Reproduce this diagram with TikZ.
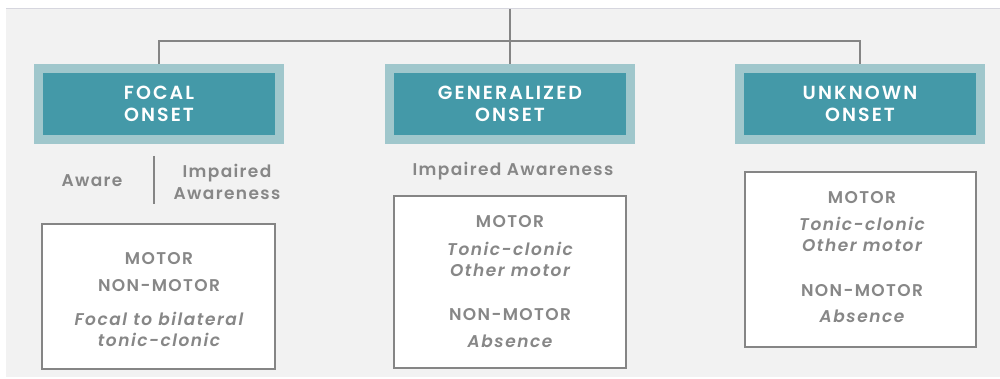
\documentclass[tikz,border=0pt]{standalone}
\usepackage{fontspec}
\setmainfont{Poppins}[BoldFont={Poppins SemiBold}, BoldItalicFont={Poppins SemiBold Italic}]
\definecolor{panelbg}{HTML}{F2F2F2}
\definecolor{topedge}{HTML}{D6D6DE}
\definecolor{tealdark}{HTML}{4499A8}
\definecolor{teallight}{HTML}{A0C7CC}
\definecolor{inkgray}{HTML}{878787}
\definecolor{wiregray}{HTML}{858585}
\begin{document}
\begin{tikzpicture}[x=1pt,y=-1pt,
  headbox/.style={fill=tealdark, draw=teallight, line width=9pt,
    minimum width=241pt, minimum height=71pt, inner sep=0pt,
    text=white, align=center,
    font=\bfseries\fontsize{19}{22}\selectfont\addfontfeatures{LetterSpace=11}},
  listbox/.style={fill=white, draw=wiregray, line width=2.2pt, inner sep=0pt},
  wire/.style={draw=wiregray, line width=1.6pt},
  capline/.style={text=inkgray, inner sep=0pt, align=center,
    font=\bfseries\fontsize{17}{22}\selectfont\addfontfeatures{LetterSpace=8}},
  itline/.style={text=inkgray, inner sep=0pt, align=center,
    font=\bfseries\itshape\fontsize{17}{21}\selectfont\addfontfeatures{LetterSpace=9}}]
\useasboundingbox (0,0) rectangle (1000,379);
\fill[white] (0,0) rectangle (1000,379);
\fill[panelbg] (6,9) rectangle (1000,377);
\draw[topedge, line width=1pt] (6,9) -- (1000,9);

% onset headers
\node[headbox] (focal) at (159,104) {FOCAL\\ONSET};
\node[headbox] (gen) at (510,104) {GENERALIZED\\ONSET};
\node[headbox] (unk) at (860,104) {UNKNOWN\\ONSET};

% tree connectors
\coordinate (root) at (510,9);
\coordinate (bus) at (510,41);
\draw[wire] (root) -- (gen.north);
\draw[wire] (focal.north) |- (bus) -| (unk.north);

% awareness labels
\node[capline] (aware) at (92,181) {Aware};
\node[capline] (impfocal) at (227,182) {Impaired\\Awareness};
\coordinate (divtop) at (154,156);
\coordinate (divbot) at (154,204);
\draw[wire] (divtop) -- (divbot);
\node[capline] (impgen) at (513,171) {Impaired Awareness};

% focal list
\node[listbox, minimum width=233pt, minimum height=145pt] (flist) at (158.5,296.5) {};
\node[capline] (f1) at (159,259) {MOTOR};
\node[capline] (f2) at (159,286) {NON-MOTOR};
\node[itline] (f3) at (159,329) {Focal to bilateral\\tonic-clonic};

% generalized list
\node[listbox, minimum width=232pt, minimum height=172pt] (glist) at (510,282) {};
\node[capline] (g1) at (510,222) {MOTOR};
\node[itline] (g2) at (510,259) {Tonic-clonic\\Other motor};
\node[capline] (g3) at (510,315) {NON-MOTOR};
\node[itline] (g4) at (510,341) {Absence};

% unknown list
\node[listbox, minimum width=231pt, minimum height=175pt] (ulist) at (860.5,259.5) {};
\node[capline] (u1) at (862,198) {MOTOR};
\node[itline] (u2) at (862,234) {Tonic-clonic\\Other motor};
\node[capline] (u3) at (862,291) {NON-MOTOR};
\node[itline] (u4) at (862,316) {Absence};
\end{tikzpicture}
\end{document}
